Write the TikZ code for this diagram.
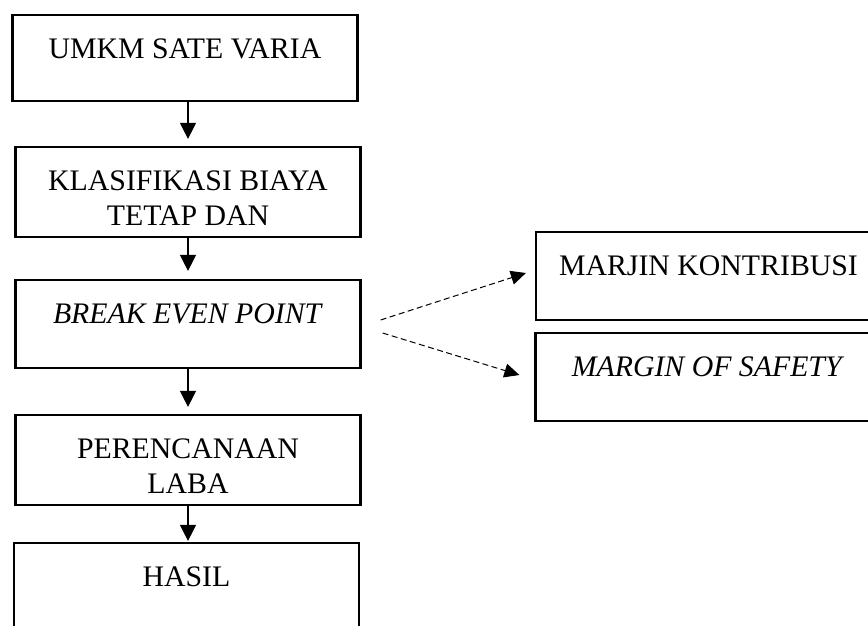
\documentclass[tikz,border=0pt]{standalone}
\usepackage{fontspec}
\setmainfont{Liberation Serif}
\usetikzlibrary{arrows.meta}

\newcommand{\twolines}[2]{\begin{tabular}[t]{@{}c@{}}#1\\#2\end{tabular}}

\begin{document}
\begin{tikzpicture}[x=1pt,y=-1pt,line width=1.2pt]
    \edef\boxwidth{345pt}
    \tikzstyle{box}=[draw,line width=2.2pt,inner sep=0pt,minimum width=\boxwidth,
                     text height=43pt,text depth=45pt,
                     font=\fontsize{29.8}{35}\selectfont]
    \tikzstyle{flow}=[-{Triangle[length=16pt,width=16pt]}]
    \tikzstyle{link}=[dash pattern=on 6pt off 3.5pt,line width=1pt,
                      -{Triangle[length=15pt,width=14pt]}]

    \useasboundingbox (0,0) rectangle (868,625);
    \clip (0,0) rectangle (868,625);

    % Draw main steps
    \node [box,text depth=43pt] (umkm) at (185,58) {UMKM SATE VARIA};
    \node [box,text depth=47pt] (klas) at (188,192)
          {\twolines{KLASIFIKASI BIAYA}{TETAP DAN}};
    \node [box] (bep) at (188,324) {\textit{BREAK EVEN POINT}};
    \node [box,text depth=47pt] (plan) at (188,460)
          {\twolines{PERENCANAAN}{LABA}};
    \node [box] (hasil) at (186.5,587) {HASIL};

    % Draw side results of BEP
    \node [box] (mk) at (708.5,276) {MARJIN KONTRIBUSI};
    \node [box] (mos) at (708,377) {\textit{MARGIN OF SAFETY}};

    % Draw arrows
    \draw [flow,shorten >=7pt] (klas.north |- umkm.south) -- (klas.north);
    \draw [flow,shorten >=8pt] (klas.south) -- (bep.north);
    \draw [flow,shorten >=7pt] (bep.south) -- (plan.north);
    \draw [flow,shorten >=1pt] (plan.south) -- (plan.south |- hasil.north);

    \draw [link] ([xshift=19pt,yshift=4pt]bep.east) -- ([xshift=-9pt,yshift=3pt]mk.west);
    \draw [link] ([xshift=21pt,yshift=-9pt]bep.east) -- ([xshift=-15pt,yshift=2pt]mos.west);
\end{tikzpicture}
\end{document}
